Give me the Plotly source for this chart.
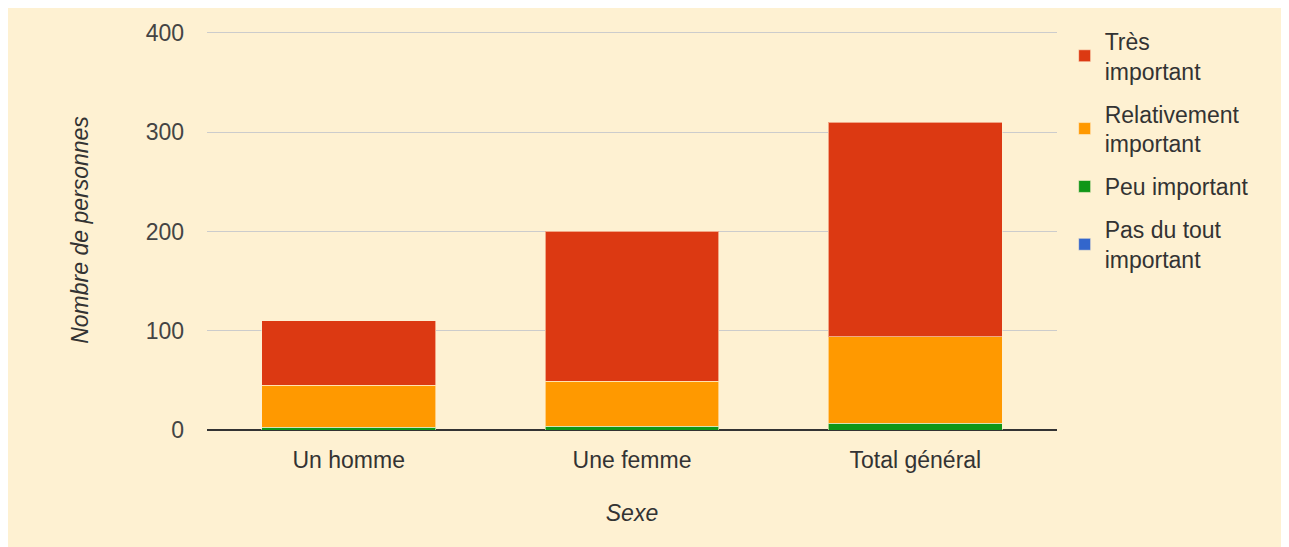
import plotly.graph_objects as go

categories = ["Un homme", "Une femme", "Total général"]
series_names = ["Très<br>important", "Relativement<br>important", "Peu important", "Pas du tout<br>important"]
pas_du_tout = [0, 0, 0]
peu = [3, 4, 7]
relativement = [42, 45, 87]
tres = [65, 151, 216]
colors = ["#DC3912", "#FF9900", "#109618", "#3366CC"]
yticks = [0, 100, 200, 300, 400]

bg = "#FEF1D2"
fig = go.Figure()
stack = [(series_names[3], pas_du_tout, colors[3]),
         (series_names[2], peu, colors[2]),
         (series_names[1], relativement, colors[1]),
         (series_names[0], tres, colors[0])]
for i, (name, vals, col) in enumerate(stack):
    fig.add_trace(go.Bar(
        x=categories, y=vals, name=name,
        marker=dict(color=col, line=dict(color="rgba(255,240,210,0.6)", width=1)),
        legendrank=4 - i, legendgroup=name,
    ))

font = "Arial, Liberation Sans, sans-serif"
fs = 23
fig.update_layout(
    barmode="stack",
    bargap=0.386,
    width=1289, height=547,
    paper_bgcolor=bg, plot_bgcolor=bg,
    margin=dict(l=199, r=240, t=21, b=125),
    font=dict(family=font, size=fs, color="#444444"),
    legend=dict(x=1.009, y=1.024, xanchor="left", yanchor="top",
                font=dict(size=fs, color="#333333"),
                traceorder="grouped", tracegroupgap=10,
                bgcolor="rgba(0,0,0,0)"),
    xaxis=dict(
        title=dict(text="<i>Sexe</i>", font=dict(size=fs, color="#333333"), standoff=32),
        showgrid=False, ticks="", tickfont=dict(size=fs, color="#333333"),
        ticklabelstandoff=14,
        showline=False,
    ),
    yaxis=dict(
        title=dict(text="<i>Nombre de personnes</i>", font=dict(size=fs, color="#333333"), standoff=50),
        range=[0, 403], tickvals=yticks,
        gridcolor="#CCCCCC", gridwidth=1,
        zeroline=True, zerolinecolor="#333333", zerolinewidth=2,
        ticklabelstandoff=22, tickfont=dict(size=fs, color="#444444"),
    ),
    showlegend=True,
)

fig.write_html("out.html")
